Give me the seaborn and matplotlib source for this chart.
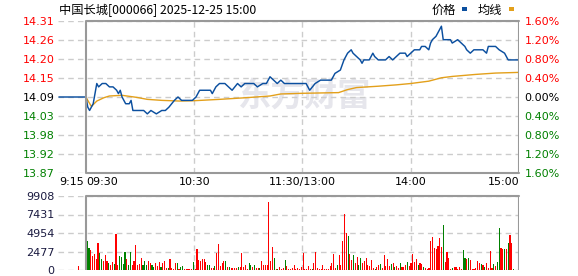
import numpy as np
import pandas as pd
import matplotlib
matplotlib.use("Agg")
import matplotlib.pyplot as plt
from matplotlib.patches import Rectangle
import seaborn as sns

# ---------------- data ----------------
title = "中国长城[000066] 2025-12-25 15:00"
prev_close = 14.09
price_tick_labels = ["14.31", "14.26", "14.20", "14.15", "14.09", "14.03", "13.98", "13.92", "13.87"]
pct_tick_labels = ["1.60%", "1.20%", "0.80%", "0.40%", "0.00%", "0.40%", "0.80%", "1.20%", "1.60%"]
pct_steps = [4, 3, 2, 1, 0, -1, -2, -3, -4]          # x 0.40 %
time_ticks = [-15, 0, 60, 120, 180, 240]               # minutes from 09:30 (trading time)
time_labels = ["9:15", "09:30", "10:30", "11:30/13:00", "14:00", "15:00"]
vol_ticks = [0, 2477, 4954, 7431, 9908]

price_min = [-15, 0, 1, 2, 3, 4, 5, 6, 7, 9, 11, 13, 15, 17, 18, 19, 20, 22, 24, 25, 26, 30, 32, 34,
             36, 39, 42, 44, 46, 49, 51, 53, 59, 61, 63, 69, 70, 72, 74, 77, 79, 81, 84, 86, 88, 93,
             95, 98, 100, 102, 104, 106, 108, 110, 112, 115, 117, 119, 122, 124, 127, 130, 136, 138,
             141, 143, 144, 145, 147, 148, 150, 152, 153, 154, 157, 159, 160, 162, 166, 168, 170,
             172, 174, 177, 178, 180, 182, 185, 186, 188, 190, 191, 192, 194, 196, 197, 198, 202,
             203, 206, 208, 210, 211, 213, 215, 220, 222, 223, 227, 229, 232, 234, 240]
price_val = [14.09, 14.09, 14.06, 14.05, 14.06, 14.07, 14.10, 14.13, 14.12, 14.13, 14.13, 14.12,
             14.12, 14.11, 14.10, 14.11, 14.09, 14.07, 14.07, 14.08, 14.05, 14.05, 14.05, 14.04,
             14.05, 14.04, 14.05, 14.05, 14.06, 14.08, 14.09, 14.08, 14.08, 14.09, 14.11, 14.11,
             14.10, 14.12, 14.13, 14.13, 14.12, 14.11, 14.13, 14.12, 14.13, 14.13, 14.12, 14.13,
             14.13, 14.15, 14.14, 14.13, 14.14, 14.13, 14.13, 14.13, 14.13, 14.13, 14.13, 14.11,
             14.13, 14.14, 14.14, 14.16, 14.17, 14.20, 14.21, 14.22, 14.23, 14.22, 14.21, 14.20,
             14.19, 14.20, 14.20, 14.22, 14.21, 14.20, 14.20, 14.21, 14.20, 14.21, 14.22, 14.22,
             14.21, 14.22, 14.23, 14.23, 14.24, 14.24, 14.23, 14.25, 14.26, 14.27, 14.29, 14.30,
             14.26, 14.26, 14.25, 14.26, 14.25, 14.24, 14.23, 14.22, 14.23, 14.23, 14.22, 14.24,
             14.24, 14.23, 14.22, 14.20, 14.20]

avg_min = [0, 1, 3, 6, 10, 13, 20, 24, 28, 34, 42, 52, 60, 74, 89, 102, 108, 120, 140, 145, 150,
           162, 172, 180, 190, 197, 203, 216, 227, 240]
avg_val = [14.090, 14.080, 14.062, 14.078, 14.088, 14.093, 14.095, 14.092, 14.089, 14.083, 14.080,
           14.078, 14.079, 14.083, 14.088, 14.093, 14.099, 14.101, 14.103, 14.112, 14.118, 14.122,
           14.126, 14.130, 14.137, 14.147, 14.151, 14.157, 14.161, 14.163]

vol_min = [-5] + list(range(0, 241))
vol_val = [535,
           3925, 2899, 2676, 1873, 2141, 1472, 3657, 2319, 1472, 1249,
           2007, 1204, 937, 669, 1115, 803, 4817, 669, 1873, 1784,
           803, 2453, 1472, 669, 2453, 669, 1249, 3345, 669, 803,
           1606, 669, 1249, 669, 1160, 981, 714, 401, 981, 535,
           1026, 446, 937, 1249, 268, 268, 1472, 268, 178, 981,
           892, 178, 357, 580, 178, 134, 134, 134, 134, 1070,
           178, 2810, 1338, 1249, 1472, 1427, 1115, 669, 669, 268,
           268, 535, 2230, 3479, 580, 892, 1160, 1204, 357, 357,
           268, 223, 268, 223, 357, 446, 2319, 446, 669, 178,
           892, 714, 446, 669, 223, 268, 223, 1249, 624, 669,
           714, 9143, 1204, 3122, 1606, 178, 178, 446, 178, 223,
           1338, 535, 178, 134, 312, 624, 134, 223, 134, 357,
           2319, 134, 134, 535, 134, 178, 981, 2453, 312, 134,
           134, 669, 134, 134, 134, 535, 981, 2141, 223, 669,
           2007, 669, 3925, 7493, 4906, 4594, 2141, 1338, 2007, 892,
           1695, 669, 1561, 981, 1204, 1561, 669, 535, 1338, 312,
           134, 446, 624, 803, 312, 2007, 535, 1472, 535, 803,
           937, 446, 535, 223, 937, 446, 446, 624, 1070, 535,
           981, 2141, 1070, 1472, 669, 981, 847, 357, 268, 134,
           312, 3925, 4460, 2899, 2765, 3211, 4237, 3122, 6021, 1070,
           2453, 1606, 178, 312, 357, 357, 178, 357, 178, 2676,
           1606, 1427, 1606, 1338, 178, 178, 223, 1204, 892, 758,
           669, 357, 981, 223, 2542, 223, 847, 535, 1070, 5575,
           2899, 2765, 2765, 2765, 3657, 4683, 3657, 89, 0, 0,
           2899]
vol_dir = list("R"
               "GGRRRRRGGR" "RRGRRGRRGG" "GGRGGRRRRR" "RGGGRRGGRR" "RGRRRGRRRR"
               "GRGGRRRRRG" "RRRRRRRGGR" "RGRRRRRGRG" "RRRRGRRRRR" "GGRGRRGRRR"
               "RRRRGRGRRR" "GRRRRRRRRR" "RRRRRGRRRR" "RRRRRRRRRG" "RRRRRGRRGR"
               "RGGRRRRRRR" "GRRGRRRRRG" "RGRRGRRRGR" "RRRRGRRGRR" "RRRRRRRRGR"
               "RRRGRRRRRG" "GRGRRRRRRG" "RGRRRRGRGG" "RRGRGRRGRR" "R")

# ---------------- style ----------------
sns.set_theme(style="white")
plt.rcParams["font.family"] = ["DejaVu Sans"]
cjk = ["Noto Sans CJK SC", "DejaVu Sans"]

RED = "#ff0000"
GREEN = "#008000"
BLUE = "#0b4f9f"
ORANGE = "#e3a01b"
GRID = "#cccccc"
SPINE = "#999999"
dash = (0, (4, 3))

W, H = 578, 276
fig = plt.figure(figsize=(W / 100, H / 100), dpi=100)


def rect(l, t, r, b):
    return [l / W, 1 - b / H, (r - l) / W, (b - t) / H]


ax = fig.add_axes(rect(58, 21, 519, 173))
axv = fig.add_axes(rect(58, 196, 519, 270), sharex=ax)

lo, hi = prev_close * (1 - 0.016), prev_close * (1 + 0.016)
ytick_pos = [prev_close * (1 + 0.004 * s) for s in pct_steps]
label_colors = [RED if s > 0 else ("black" if s == 0 else GREEN) for s in pct_steps]

# ---- main price panel ----
price_df = pd.DataFrame({"minute": price_min, "price": price_val})
avg_df = pd.DataFrame({"minute": avg_min, "avg": avg_val})
sns.lineplot(data=avg_df, x="minute", y="avg", ax=ax, color=ORANGE, lw=1.0, zorder=3)
sns.lineplot(data=price_df, x="minute", y="price", ax=ax, color=BLUE, lw=1.05, zorder=4)

ax.set_xlim(-15.5, 240)
ax.set_ylim(lo, hi)
for s in ax.spines.values():
    s.set_visible(False)
for y in ytick_pos:
    ax.axhline(y, color=GRID, lw=1, ls=dash, zorder=1)
for xm in [60, 120, 180]:
    ax.axvline(xm, color=GRID, lw=1, ls=dash, zorder=1)
ax.axvline(0, color=SPINE, lw=1.5, zorder=5)
ax.axvline(240, color=SPINE, lw=1.5, zorder=5)
ax.plot([0, 240], [hi, hi], color=SPINE, lw=1.5, zorder=5, clip_on=False)
ax.plot([0, 240], [lo, lo], color=SPINE, lw=1.5, zorder=5, clip_on=False)

ax.set_yticks(ytick_pos)
ax.set_yticklabels(price_tick_labels)
for t, c in zip(ax.get_yticklabels(), label_colors):
    t.set_color(c)
ax.tick_params(axis="y", length=0, pad=2.5, labelsize=8)
ax.set_xticks(time_ticks)
ax.set_xticklabels(time_labels)
ax.tick_params(axis="x", length=0, pad=3, labelsize=8, labelcolor="black")
xl = ax.get_xticklabels()
xl[0].set_ha("left")
xl[1].set_ha("left")
xl[-1].set_ha("right")
ax.set_xlabel("")
ax.set_ylabel("")

ax2 = ax.twinx()
ax2.set_ylim(lo, hi)
ax2.set_yticks(ytick_pos)
ax2.set_yticklabels(pct_tick_labels)
for t, c in zip(ax2.get_yticklabels(), label_colors):
    t.set_color(c)
ax2.tick_params(axis="y", length=0, pad=4, labelsize=8)
for s in ax2.spines.values():
    s.set_visible(False)
ax2.grid(False)

# watermark
ax.text(121, prev_close, "东方财富", family=cjk, fontsize=24, fontweight="bold",
        color="#e6e6ec", ha="center", va="center", zorder=0)

# ---- volume panel ----
vol_x = [0.7 + m * 0.997 for m in vol_min]
vol_colors = [RED if d == "R" else GREEN for d in vol_dir]
axv.bar(vol_x, vol_val, width=0.6, color=vol_colors, linewidth=0, zorder=3)
axv.set_ylim(0, vol_ticks[-1])
for s in axv.spines.values():
    s.set_visible(False)
for y in vol_ticks:
    axv.axhline(y, color=GRID, lw=1, ls=dash, zorder=1)
for xm in [60, 120, 180]:
    axv.axvline(xm, color=GRID, lw=1, ls=dash, zorder=1)
axv.axvline(0, color=SPINE, lw=1.5, zorder=5)
axv.axvline(240, color=SPINE, lw=1.5, zorder=5)
axv.plot([0, 240], [vol_ticks[-1]] * 2, color=SPINE, lw=1.5, zorder=5, clip_on=False)
axv.set_yticks(vol_ticks)
axv.set_yticklabels([str(v) for v in vol_ticks])
axv.tick_params(axis="y", length=0, pad=2.5, labelsize=8, labelcolor="#1a1a40")
axv.tick_params(axis="x", length=0, labelbottom=False)
axv.grid(False)
ax.grid(False)

# ---- title & legend ----
fig.text(59 / W, 1 - 10 / H, title, family=cjk, fontsize=8.8, ha="left", va="center", color="black")
fig.text(432 / W, 1 - 10 / H, "价格", family=cjk, fontsize=8.8, ha="left", va="center", color="black")
fig.patches.append(Rectangle((461.5 / W, 1 - 10.5 / H), 5 / W, 3 / H, transform=fig.transFigure,
                             color=BLUE, lw=0))
fig.text(478 / W, 1 - 10 / H, "均线", family=cjk, fontsize=8.8, ha="left", va="center", color="black")
fig.patches.append(Rectangle((508.5 / W, 1 - 10.5 / H), 5 / W, 3 / H, transform=fig.transFigure,
                             color=ORANGE, lw=0))

fig.savefig("out.png", dpi=100)
